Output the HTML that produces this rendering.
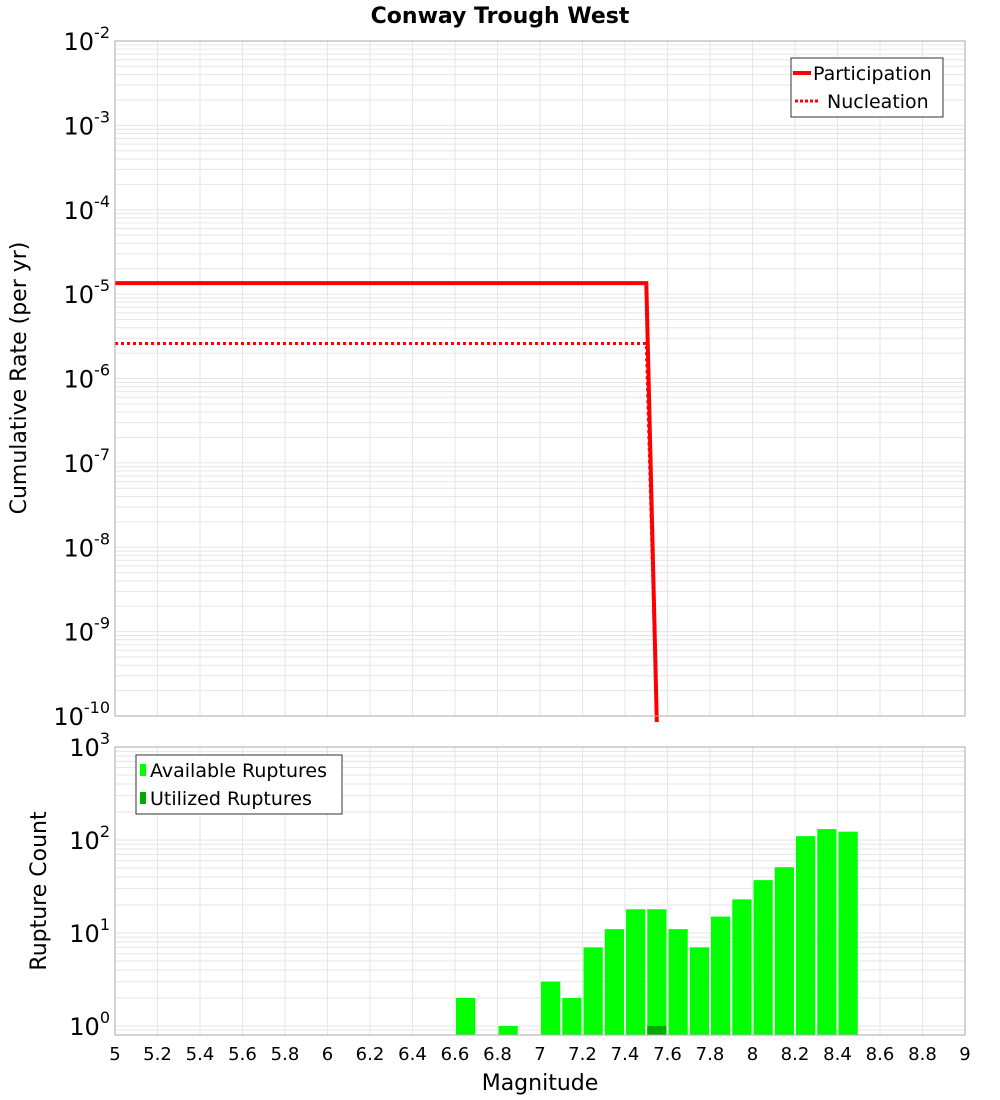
<!DOCTYPE html>
<html><head><meta charset="utf-8"><style>
html,body{margin:0;padding:0;background:#fff;}
svg{display:block;font-family:"DejaVu Sans","Liberation Sans",sans-serif;}
</style></head><body>
<svg id="chart" width="1000" height="1100" viewBox="0 0 1000 1100" xmlns="http://www.w3.org/2000/svg">
<defs><clipPath id="ct"><rect x="115" y="41" width="850" height="681"/></clipPath></defs>
<text x="500" y="23" text-anchor="middle" font-size="22" font-weight="bold">Conway Trough West</text>
<g id="topPlot"></g>
<g id="botPlot"></g>
<text transform="translate(26,378) rotate(-90)" text-anchor="middle" font-size="22">Cumulative Rate (per yr)</text>
<text transform="translate(46,891) rotate(-90)" text-anchor="middle" font-size="22">Rupture Count</text>
<text x="540" y="1090" text-anchor="middle" font-size="22">Magnitude</text>
</svg>
<script>
const xTicks = [5,5.2,5.4,5.6,5.8,6,6.2,6.4,6.6,6.8,7,7.2,7.4,7.6,7.8,8,8.2,8.4,8.6,8.8,9];
const topExps = [-2,-3,-4,-5,-6,-7,-8,-9,-10];
const botExps = [3,2,1,0];
const partMags = [5, 7.5, 7.55];
const partRates = [1.35e-5, 1.35e-5, 1e-12];
const nuclMags = [5, 7.5, 7.55];
const nuclRates = [2.6e-6, 2.6e-6, 1e-12];
const binMags = [6.6,6.8,7.0,7.1,7.2,7.3,7.4,7.5,7.6,7.7,7.8,7.9,8.0,8.1,8.2,8.3,8.4];
const availCounts = [2,1,3,2,7,11,18,18,11,7,15,23,37,51,110,131,123];
const utilMags = [7.5];
const utilCounts = [1];

const NS="http://www.w3.org/2000/svg";
const X0=115,X1=965;
const xs=m=>X0+(m-5)/4*(X1-X0);
const TT=41,TB=716;
const yT=v=>TT+(-2-Math.log10(v))/8*(TB-TT);
const BT=747,BB=1035,B0=1026,PD=93;
const yB=v=>Math.min(BB,B0-Math.log10(v)*PD);
function el(p,t,a){const e=document.createElementNS(NS,t);for(const k in a)e.setAttribute(k,a[k]);p.appendChild(e);return e;}
const topG=document.getElementById('topPlot'),botG=document.getElementById('botPlot');

for(let d=-10;d<-2;d++)for(let k=1;k<10;k++){const yy=yT(k*Math.pow(10,d));if(yy<TT)continue;
 const l=el(topG,'line',{x1:X0,x2:X1,y1:yy,y2:yy,stroke:'#e6e6e6','stroke-width':1});
 
 }
for(let d=-1;d<3;d++)for(let k=1;k<10;k++){const v=k*Math.pow(10,d);const yy=B0-Math.log10(v)*PD;if(yy<BT||yy>BB)continue;
 const l=el(botG,'line',{x1:X0,x2:X1,y1:yy,y2:yy,stroke:'#e6e6e6','stroke-width':1});
 
 }
xTicks.forEach(m=>{
 const a=el(topG,'line',{x1:xs(m),x2:xs(m),y1:TT,y2:TB,stroke:'#e6e6e6','stroke-width':1});
 
 
 const b=el(botG,'line',{x1:xs(m),x2:xs(m),y1:BT,y2:BB,stroke:'#e6e6e6','stroke-width':1});
 
 
 const t=el(botG,'text',{x:xs(m),y:1060,'text-anchor':'middle','font-size':18});t.textContent=String(m);
 
 
});
function expLabel(g,yy,e){const t=el(g,'text',{x:X0-5,y:yy+9,'text-anchor':'end','font-size':24});
 t.appendChild(document.createTextNode('10'));
 const s=el(t,'tspan',{dy:-12,'font-size':16});s.textContent=String(e);
 
 }
topExps.forEach(e=>expLabel(topG,yT(Math.pow(10,e)),e));
botExps.forEach(e=>expLabel(botG,B0-e*PD,e));

function path(ms,vs){return ms.map((m,i)=>(i?'L':'M')+xs(m).toFixed(1)+','+Math.min(TB+10,yT(vs[i])).toFixed(1)).join(' ');}
const pl=el(topG,'path',{d:path(partMags,partRates),fill:'none',stroke:'#ff0000','stroke-width':4,'clip-path':'url(#ct)'});


const nl=el(topG,'path',{d:path(nuclMags,nuclRates),fill:'none',stroke:'#ff0000','stroke-width':3,'stroke-dasharray':'3,3','clip-path':'url(#ct)'});



binMags.forEach((m,i)=>{const y0=yB(availCounts[i]);
 const r=el(botG,'rect',{x:xs(m)+1,y:y0,width:xs(m+0.1)-xs(m)-2,height:BB-y0,fill:'#00ff00'});
 
 });
utilMags.forEach((m,i)=>{const y0=yB(utilCounts[i]);
 const r=el(botG,'rect',{x:xs(m)+1,y:y0,width:xs(m+0.1)-xs(m)-2,height:BB-y0,fill:'#00aa00'});
 
 });

el(topG,'rect',{x:X0,y:TT,width:X1-X0,height:TB-TT,fill:'none',stroke:'#aaa','stroke-width':1});
el(botG,'rect',{x:X0,y:BT,width:X1-X0,height:BB-BT,fill:'none',stroke:'#aaa','stroke-width':1});

const lg=el(topG,'g',{});


el(lg,'rect',{x:791,y:58,width:152,height:59,fill:'#fff',stroke:'#333','stroke-width':1});
el(lg,'line',{x1:793,x2:811,y1:73,y2:73,stroke:'#f00','stroke-width':4});
let tx=el(lg,'text',{x:813,y:80,'font-size':19});tx.textContent='Participation';
el(lg,'line',{x1:795,x2:820,y1:101,y2:101,stroke:'#f00','stroke-width':3,'stroke-dasharray':'3,2'});
tx=el(lg,'text',{x:827,y:108,'font-size':19});tx.textContent='Nucleation';
const lg2=el(botG,'g',{});


el(lg2,'rect',{x:136,y:755,width:206,height:59,fill:'#fff',stroke:'#333','stroke-width':1});
el(lg2,'rect',{x:140,y:764,width:6,height:12,fill:'#00ff00'});
tx=el(lg2,'text',{x:150,y:777,'font-size':19});tx.textContent='Available Ruptures';
el(lg2,'rect',{x:140,y:792,width:6,height:12,fill:'#00aa00'});
tx=el(lg2,'text',{x:150,y:805,'font-size':19});tx.textContent='Utilized Ruptures';
</script>
</body></html>
